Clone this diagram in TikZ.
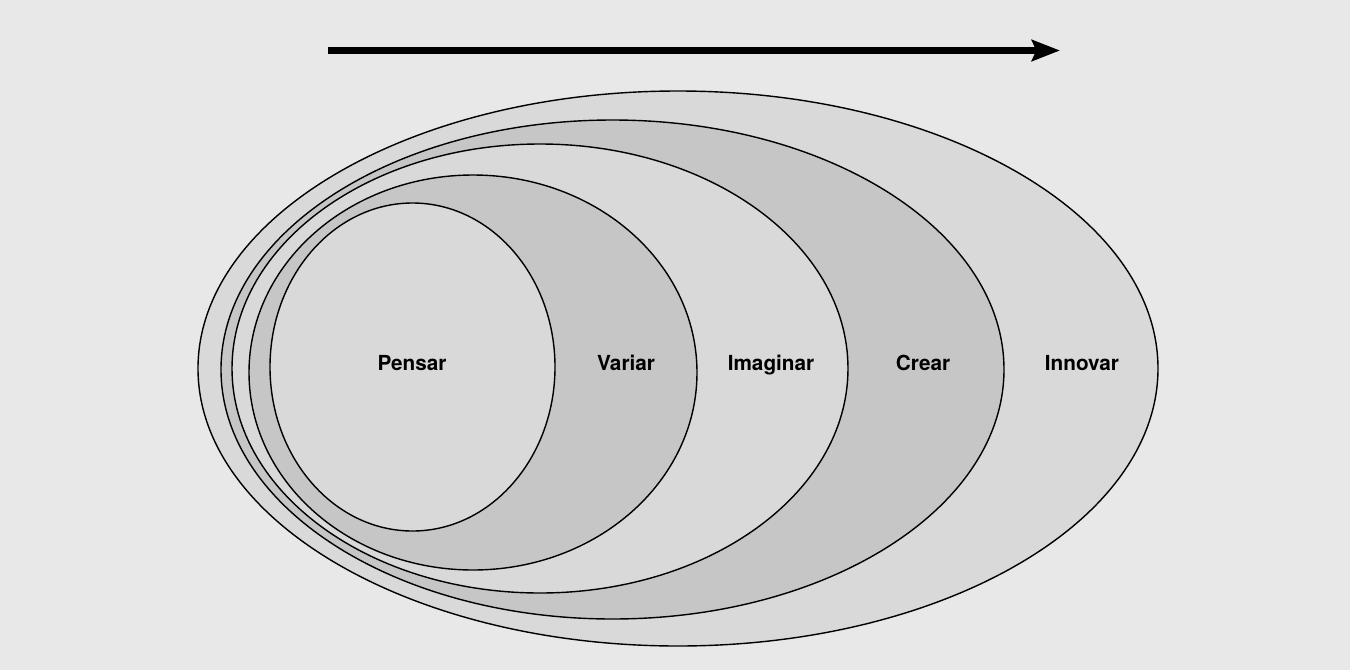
\documentclass[tikz,border=0pt]{standalone}
\usepackage{fontspec}
\setsansfont{TeX Gyre Heros}
\usetikzlibrary{arrows.meta}

\definecolor{fondo}{HTML}{E8E8E8}
\definecolor{claro}{HTML}{D9D9D9}
\definecolor{oscuro}{HTML}{C6C6C6}

\tikzstyle{every node}=[font=\sffamily\bfseries\fontsize{11.8}{14}\selectfont]
\tikzstyle{capa}=[draw=black, line width=0.8pt]
\tikzstyle{etiqueta}=[inner sep=0pt, anchor=base, text=black]

\begin{document}
\begin{tikzpicture}[x=0.02cm, y=-0.02cm]
            % fondo
            \fill[fondo] (0,0) rectangle (1350,670);
            \useasboundingbox (0,0) rectangle (1350,670);

            % flecha superior
            \coordinate (inicio) at (328,50.5);
            \coordinate (fin) at (1060,50.5);
            \draw[line width=3.5pt, -{Stealth[length=16pt, width=12pt, inset=2.5pt]}] (inicio) -- (fin);

            % elipses, de fuera hacia dentro
            \draw[capa, fill=claro]  (678,368.5) ellipse (480 and 277.5);
            \draw[capa, fill=oscuro] (612.5,369.5) ellipse (391.5 and 249.5);
            \draw[capa, fill=claro]  (540,368.5) ellipse (308 and 224.5);
            \draw[capa, fill=oscuro] (473,372.5) ellipse (224 and 197.5);
            \draw[capa, fill=claro]  (412.5,367) ellipse (142.5 and 164);

            % etiquetas
            \node[etiqueta] (pensar)   at (412,370)  {Pensar};
            \node[etiqueta] (variar)   at (626,370)  {Variar};
            \node[etiqueta] (imaginar) at (771,370)  {Imaginar};
            \node[etiqueta] (crear)    at (923,370)  {Crear};
            \node[etiqueta] (innovar)  at (1082,370) {Innovar};
        \end{tikzpicture}
\end{document}
